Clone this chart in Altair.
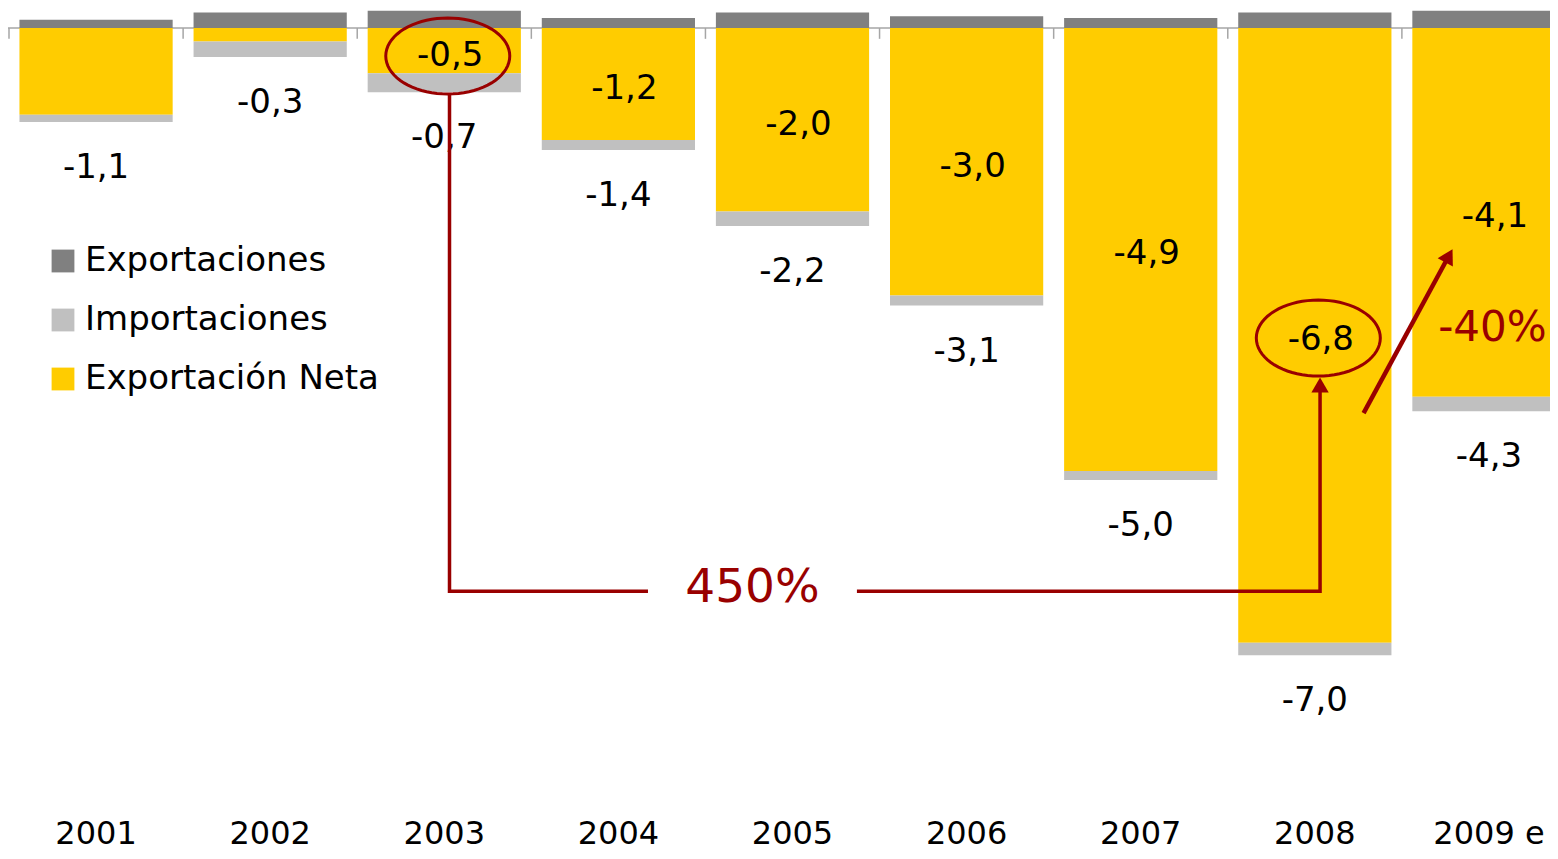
import altair as alt
import pandas as pd
import numpy as np

# ---------------- data ----------------
years = ["2001", "2002", "2003", "2004", "2005", "2006", "2007", "2008", "2009 e"]
exportaciones = [0.09, 0.17, 0.19, 0.11, 0.17, 0.13, 0.11, 0.17, 0.19]
exportacion_neta = [-0.96, -0.15, -0.50, -1.24, -2.03, -2.96, -4.90, -6.80, -4.08]
importaciones = [-1.04, -0.32, -0.71, -1.35, -2.19, -3.07, -5.00, -6.94, -4.24]
net_labels = ["", "", "-0,5", "-1,2", "-2,0", "-3,0", "-4,9", "-6,8", "-4,1"]
imp_labels = ["-1,1", "-0,3", "-0,7", "-1,4", "-2,2", "-3,1", "-5,0", "-7,0", "-4,3"]

series = ["Exportaciones", "Importaciones", "Exportación Neta"]
colors = ["#808080", "#c0c0c0", "#ffcc00"]

# annotation positions (x in category-index units, y in data units)
ellipse_pos = [2.52, 7.52]
ellipse_val = [-0.31, -3.43]
conn_seg = ["a", "a", "a", "b", "b", "b"]
conn_pos = [2.53, 2.53, 3.67, 4.87, 7.53, 7.53]
conn_val = [-0.73, -6.23, -6.23, -6.23, -6.23, -3.95]
head_pos = [7.53, 8.27]
head_val = [-3.95, -2.52]
head_angle = [0, 29]
arrow_pos = [7.78, 8.27]
arrow_val = [-4.26, -2.52]
note_text = ["450%", "-40%"]
note_pos = [4.27, 8.52]
note_val = [-6.19, -3.32]
tick_pos = list(range(9))

RED = "#990000"
FONT = "DejaVu Sans"

# ---------------- tables ----------------
rows = []
for i, yr in enumerate(years):
    rows.append({"year": yr, "serie": "Exportaciones", "y0": 0.0, "y1": exportaciones[i]})
    rows.append({"year": yr, "serie": "Exportación Neta", "y0": 0.0, "y1": exportacion_neta[i]})
    rows.append({"year": yr, "serie": "Importaciones", "y0": exportacion_neta[i], "y1": importaciones[i]})
bars_df = pd.DataFrame(rows)

lab_df = pd.DataFrame({
    "year": years,
    "mid": [v / 2 for v in exportacion_neta],
    "imp": importaciones,
    "net_label": net_labels,
    "imp_label": imp_labels,
})

ell_df = pd.DataFrame({"pos": ellipse_pos, "val": ellipse_val})
conn_df = pd.DataFrame({"seg": conn_seg, "pos": conn_pos, "val": conn_val,
                        "order": list(range(len(conn_pos)))})
head_df = pd.DataFrame({"pos": head_pos, "val": head_val, "angle": head_angle})
arrow_df = pd.DataFrame({"pos": arrow_pos, "val": arrow_val})
note_df = pd.DataFrame({"text": note_text, "pos": note_pos, "val": note_val})
tick_df = pd.DataFrame({"pos": tick_pos, "top": [0.0] * len(tick_pos), "bot": [-0.12] * len(tick_pos)})

# ---------------- scales ----------------
W, H = 1542, 796
XRANGE = [1, 1568]
yscale = alt.Scale(domain=[0.221 - H / 90.4, 0.221], nice=False, zero=False)
band_scale = alt.Scale(range=XRANGE, paddingInner=0.12, paddingOuter=0.06)
xband_axis = alt.X("year:N", sort=years, title=None, scale=band_scale,
                   axis=alt.Axis(domain=False, ticks=False, labelAngle=0, labelFontSize=32,
                                 labelFont=FONT, labelColor="black", labelPadding=39,
                                 labelBaseline="alphabetic", grid=False))
xband = alt.X("year:N", sort=years, title=None, scale=band_scale, axis=None)
xq = alt.X("pos:Q", scale=alt.Scale(domain=[0, 9], range=XRANGE, nice=False, zero=False), axis=None)

t = np.linspace(0, 2 * np.pi, 73)[:-1]
ellipse_path = "M" + " L".join(f"{np.cos(a):.4f},{0.613 * np.sin(a):.4f}" for a in t) + " Z"

# ---------------- layers ----------------
zero_line = alt.Chart(pd.DataFrame({"v": [0.0]})).mark_rule(color="#a6a6a6", strokeWidth=1.5).encode(
    y=alt.Y("v:Q", scale=yscale, axis=None))

ticks = alt.Chart(tick_df).mark_rule(color="#a6a6a6", strokeWidth=1.5).encode(
    x=xq, y=alt.Y("top:Q", scale=yscale, axis=None), y2="bot:Q")

bars = alt.Chart(bars_df).mark_bar(clip=True, strokeWidth=0).encode(
    x=xband_axis,
    y=alt.Y("y0:Q", scale=yscale, axis=None),
    y2="y1:Q",
    color=alt.Color("serie:N", scale=alt.Scale(domain=series, range=colors),
                    legend=alt.Legend(title=None, orient="none", legendX=38, legendY=236,
                                      symbolType="square", symbolSize=520, symbolStrokeWidth=0,
                                      labelFontSize=34, labelFont=FONT, labelColor="black",
                                      labelLimit=600, rowPadding=25, labelOffset=5, padding=0)),
)

net_text = alt.Chart(lab_df).mark_text(fontSize=34, font=FONT, color="black", baseline="middle",
                                       dy=5, dx=6).encode(
    x=xband, y=alt.Y("mid:Q", scale=yscale, axis=None), text="net_label:N")

imp_text = alt.Chart(lab_df).mark_text(fontSize=34, font=FONT, color="black", baseline="middle", dy=46).encode(
    x=xband, y=alt.Y("imp:Q", scale=yscale, axis=None), text="imp_label:N")

connector = alt.Chart(conn_df).mark_line(color=RED, strokeWidth=3.5, strokeCap="butt").encode(
    x=xq, y=alt.Y("val:Q", scale=yscale, axis=None), detail="seg:N", order="order:Q")

arrow = alt.Chart(arrow_df).mark_line(color=RED, strokeWidth=4.5).encode(
    x=xq, y=alt.Y("val:Q", scale=yscale, axis=None))

heads = alt.Chart(head_df).mark_point(shape="triangle-up", filled=True, color=RED, size=300, opacity=1).encode(
    x=xq, y=alt.Y("val:Q", scale=yscale, axis=None), angle=alt.Angle("angle:Q", scale=None))

ellipses = alt.Chart(ell_df).mark_point(shape=ellipse_path, filled=False, color=RED, size=15376,
                                        strokeWidth=3, opacity=1).encode(
    x=xq, y=alt.Y("val:Q", scale=yscale, axis=None))

notes = alt.Chart(note_df).mark_text(font=FONT, color=RED, baseline="middle").encode(
    x=xq, y=alt.Y("val:Q", scale=yscale, axis=None), text="text:N",
    size=alt.Size("text:N", scale=alt.Scale(domain=note_text, range=[47, 42]), legend=None))

chart = alt.layer(
    zero_line, ticks, bars, net_text, imp_text, connector, arrow, heads, ellipses, notes
).resolve_scale(x="independent").properties(
    width=W, height=H,
    padding={"left": 0, "top": 0, "right": 0, "bottom": 47},
    autosize=alt.AutoSizeParams(type="none"),
).configure(font=FONT).configure_view(strokeWidth=0, stroke="transparent")

chart.save("out.html", embed_options={"renderer": "svg", "actions": False})
